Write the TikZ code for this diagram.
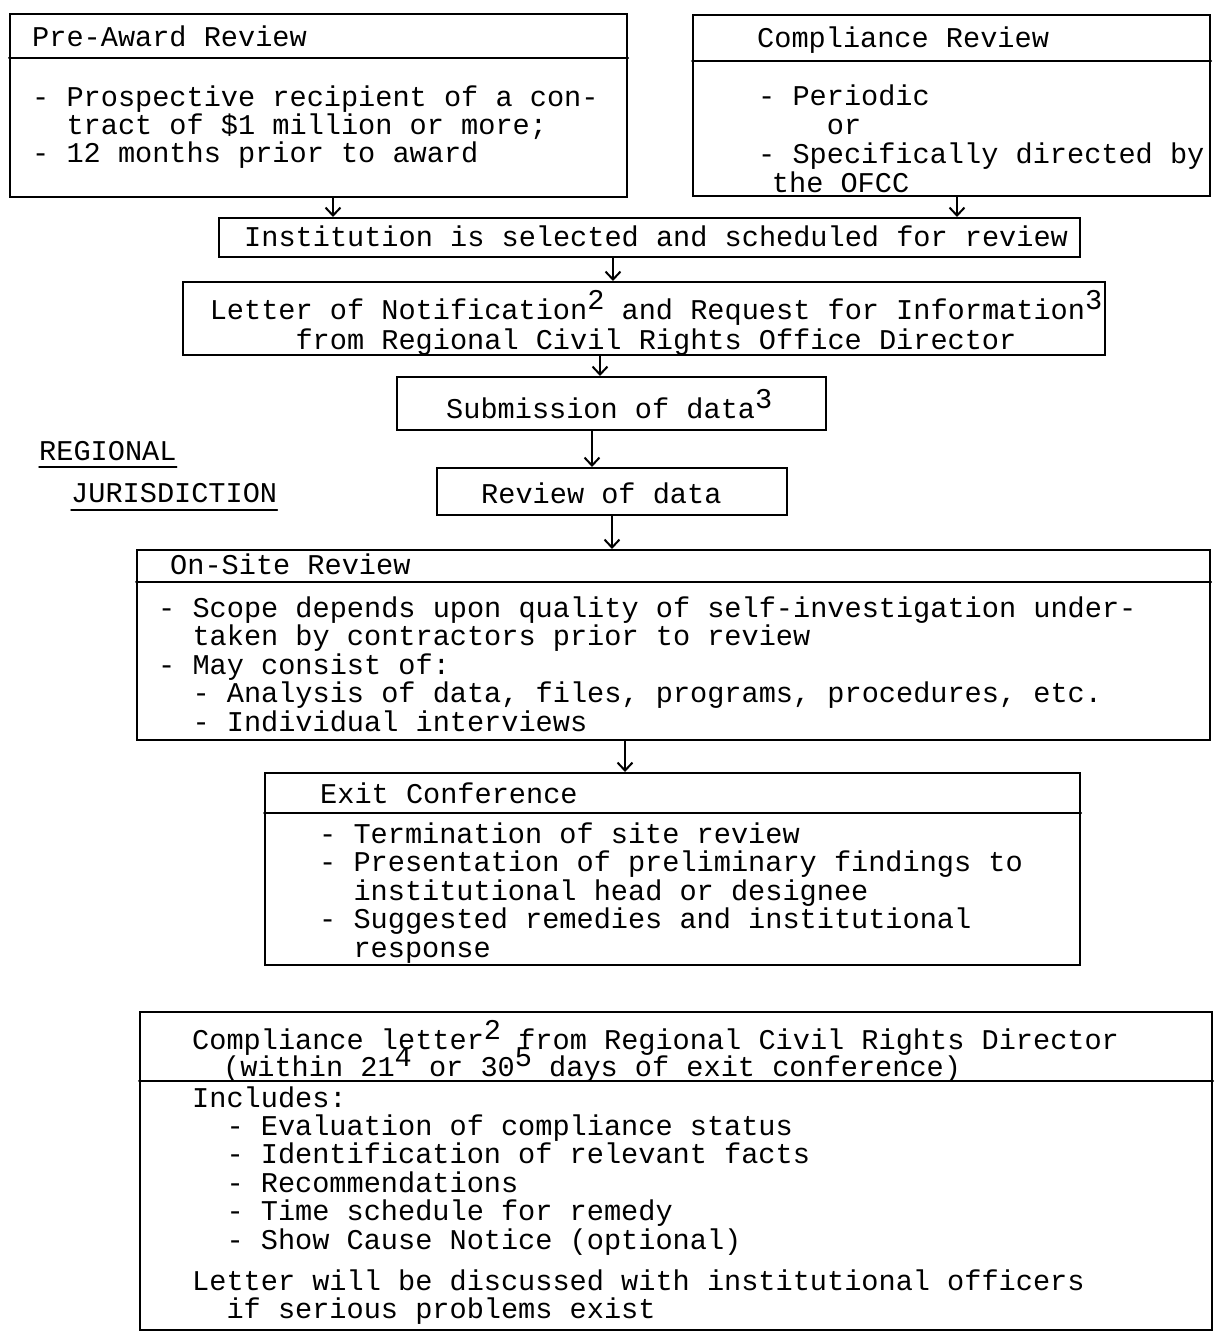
\documentclass[tikz,border=0pt]{standalone}
\usepackage{fontspec}
\setmonofont{Liberation Mono}
\usetikzlibrary{arrows.meta}

\newcommand{\tw}[1]{\fontsize{28.6}{#1}\selectfont\ttfamily\lineskiplimit=-40pt\relax}
\newcommand{\sups}[1]{\raisebox{0.34em}{#1}}
\newcommand{\ind}[1]{\hspace*{#1\fontcharwd\font`0}}

\begin{document}
\begin{tikzpicture}[
			x=1pt, y=-1pt,
			line cap=round,
			font=\tw{28.5},
			>={Straight Barb[length=8pt,width=15pt]},
			box/.style={draw, line width=2pt, inner sep=0pt},
			txt/.style={inner sep=0pt, anchor=base west, align=left},
			arr/.style={->, line width=2pt},
			rule/.style={line width=2pt},
		]
			\useasboundingbox (0,0) rectangle (1220,1335);

			\node[box, minimum width=617, minimum height=183] (preaward) at (318.5,105.5) {};
			\draw[rule] (preaward.west |- 0,58) -- (preaward.east |- 0,58);
			\node[txt] (preawardT) at (32,47) {Pre-Award Review};
			\node[txt, font=\tw{27.5}] (preawardB) at (32,162)
				{- Prospective recipient of a con-\\\ind{2}tract of \$1 million or more;\\- 12 months prior to award};

			\node[box, minimum width=517, minimum height=181] (comprev) at (951.5,105.5) {};
			\draw[rule] (comprev.west |- 0,61) -- (comprev.east |- 0,61);
			\node[txt] (comprevT) at (757,48) {Compliance Review};
			\node[txt, font=\tw{29}] (comprevB) at (758,192)
				{- Periodic\\\ind{4}or\\- Specifically directed by\\\ind{0.8}the OFCC};

			\node[box, minimum width=861, minimum height=39] (inst) at (649.5,237.5) {};
			\node[txt] (instT) at (244,246) {Institution is selected and scheduled for review};

			\node[box, minimum width=922, minimum height=73] (letter) at (644,318.5) {};
			\node[inner sep=0pt, anchor=base, align=center, font=\tw{29.5}] (letterT) at (656,349)
				{Letter of Notification\sups{2} and Request for Information\sups{3}\\from Regional Civil Rights Office Director};

			\node[box, minimum width=429, minimum height=53] (subm) at (611.5,403.5) {};
			\node[txt] (submT) at (446,418) {Submission of data\sups{3}};

			\node[box, minimum width=350, minimum height=47] (review) at (612,491.5) {};
			\node[txt] (reviewT) at (481,503) {Review of data};

			\node[txt] (regional) at (39,460) {REGIONAL};
			\draw[line width=1.5pt] ([yshift=-7pt]regional.base west) -- ([yshift=-7pt]regional.base east);
			\node[txt] (jurisdiction) at (71,502) {JURISDICTION};
			\draw[line width=1.5pt] ([yshift=-8pt]jurisdiction.base west) -- ([yshift=-8pt]jurisdiction.base east);

			\node[box, minimum width=1073, minimum height=190] (onsite) at (673.5,645) {};
			\draw[rule] (onsite.west |- 0,582) -- (onsite.east |- 0,582);
			\node[txt] (onsiteT) at (170,574) {On-Site Review};
			\node[txt, font=\tw{28.5}] (onsiteB) at (158,731)
				{- Scope depends upon quality of self-investigation under-\\\ind{2}taken by contractors prior to review\\- May consist of:\\\ind{2}- Analysis of data, files, programs, procedures, etc.\\\ind{2}- Individual interviews};

			\node[box, minimum width=815, minimum height=192] (exit) at (672.5,869) {};
			\draw[rule] (exit.west |- 0,813) -- (exit.east |- 0,813);
			\node[txt] (exitT) at (320,803) {Exit Conference};
			\node[txt, font=\tw{28.5}] (exitB) at (319,957)
				{- Termination of site review\\- Presentation of preliminary findings to\\\ind{2}institutional head or designee\\- Suggested remedies and institutional\\\ind{2}response};

			\node[box, minimum width=1072, minimum height=318] (cletter) at (676,1171) {};
			\draw[rule] (cletter.west |- 0,1081) -- (cletter.east |- 0,1081);
			\node[txt, font=\tw{27.5}] (cletterT) at (192,1076.5)
				{Compliance letter\sups{2} from Regional Civil Rights Director\\\ind{1.8}(within 21\sups{4} or 30\sups{5} days of exit conference)};
			\node[txt, font=\tw{28.4}] (cletterB) at (192,1318.4)
				{Includes:\\\ind{2}- Evaluation of compliance status\\\ind{2}- Identification of relevant facts\\\ind{2}- Recommendations\\\ind{2}- Time schedule for remedy\\\ind{2}- Show Cause Notice (optional)\\[12.6pt]Letter will be discussed with institutional officers\\\ind{2}if serious problems exist};

			\draw[arr] ([xshift=14.5pt]preaward.south) -- ([xshift=14.5pt]preaward.south |- inst.north);
			\draw[arr] ([xshift=5.5pt]comprev.south) -- ([xshift=5.5pt]comprev.south |- inst.north);
			\draw[arr] ([xshift=-36.5pt]inst.south) -- ([xshift=-36.5pt]inst.south |- letter.north);
			\draw[arr] ([xshift=-44pt]letter.south) -- ([xshift=-44pt]letter.south |- subm.north);
			\draw[arr] ([xshift=-19.5pt]subm.south) -- ([xshift=-19.5pt]subm.south |- review.north);
			\draw[arr] (review.south) -- (review.south |- onsite.north);
			\draw[arr] ([xshift=-48.5pt]onsite.south) -- ([xshift=-48.5pt]onsite.south |- exit.north);
		\end{tikzpicture}
\end{document}
